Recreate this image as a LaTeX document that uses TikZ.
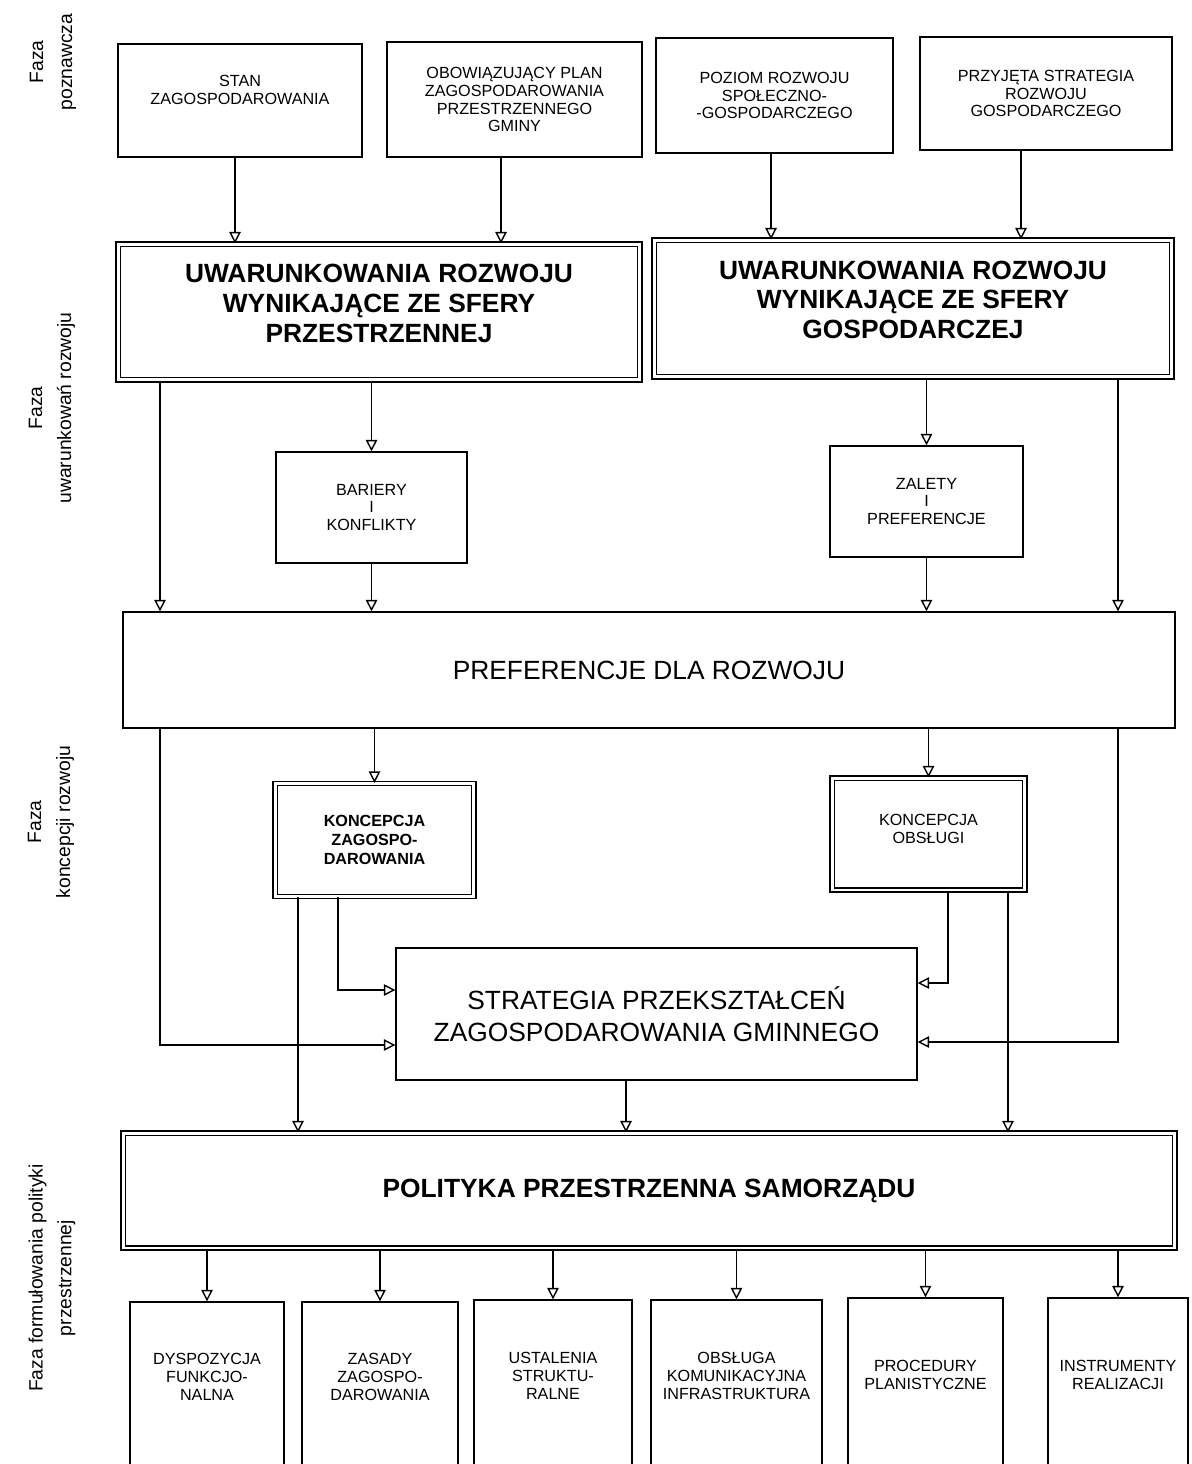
\documentclass[tikz,border=0pt]{standalone}
\usepackage{fontspec}
\setmainfont{Liberation Sans}
\usetikzlibrary{arrows.meta,positioning}

\begin{document}
\begin{tikzpicture}[
    x=0.02cm, y=-0.02cm,
    box/.style={draw, line width=0.8pt, inner sep=0pt, align=center, font=\fontsize{9.2}{10.2}\selectfont},
    dbox/.style={box, double, double distance=1.7pt, line width=0.7pt},
    big/.style={font=\fontsize{15}{18}\selectfont},
    bigb/.style={font=\fontsize{15}{17}\selectfont\bfseries},
    elem/.style={box, text depth=9pt},
    phase/.style={rotate=90, align=center, font=\fontsize{11}{16.5}\selectfont},
    arr/.style={draw, line width=0.8pt, -{Triangle[open, length=6.5pt, width=6.5pt]}}
]
\useasboundingbox (0,0) rectangle (1191,1464);

% phase labels
\node[phase] (fpoz) at (53,62) {Faza\\poznawcza};
\node[phase] (fuw) at (52,408) {Faza\\uwarunkowań rozwoju};
\node[phase] (fkon) at (51,822) {Faza\\koncepcji rozwoju};
\node[phase] (fpol) at (52,1278) {Faza formułowania polityki\\przestrzennej};

% first row
\node[box, minimum width=4.88cm, minimum height=2.26cm, text depth=12pt] (stan) at (240,100.5) {STAN\\ZAGOSPODAROWANIA};
\node[box, minimum width=5.10cm, minimum height=2.30cm] (obow) at (514.5,99.5) {OBOWIĄZUJĄCY PLAN\\ZAGOSPODAROWANIA\\PRZESTRZENNEGO\\GMINY};
\node[box, minimum width=4.74cm, minimum height=2.30cm] (poz) at (774.5,95.5) {POZIOM ROZWOJU\\SPOŁECZNO-\\-GOSPODARCZEGO};
\node[box, minimum width=5.04cm, minimum height=2.26cm] (przy) at (1046,93.5) {PRZYJĘTA STRATEGIA\\ROZWOJU\\GOSPODARCZEGO};

% conditions
\node[dbox, bigb, text depth=10pt, minimum width=10.44cm, minimum height=2.72cm] (uwp) at (379,312) {UWARUNKOWANIA ROZWOJU\\WYNIKAJĄCE ZE SFERY\\PRZESTRZENNEJ};
\node[dbox, bigb, text depth=10pt, minimum width=10.36cm, minimum height=2.74cm] (uwg) at (913,308.5) {UWARUNKOWANIA ROZWOJU\\WYNIKAJĄCE ZE SFERY\\GOSPODARCZEJ};
\node[box, minimum width=3.82cm, minimum height=2.22cm] (bar) at (371.5,507.5) {BARIERY\\I\\KONFLIKTY};
\node[box, minimum width=3.86cm, minimum height=2.22cm] (zal) at (926.5,501.5) {ZALETY\\I\\PREFERENCJE};
\node[box, big, minimum width=21.04cm, minimum height=2.32cm] (pref) at (649,670) {PREFERENCJE DLA ROZWOJU};

% concepts
\node[dbox, font=\fontsize{9.2}{10.8}\selectfont\bfseries, minimum width=3.98cm, minimum height=2.26cm] (kz) at (374.5,840) {KONCEPCJA\\ZAGOSPO-\\DAROWANIA};
\node[dbox, text depth=6pt, minimum width=3.86cm, minimum height=2.24cm] (ko) at (928.5,834) {KONCEPCJA\\OBSŁUGI};
\node[box, big, minimum width=10.42cm, minimum height=2.64cm] (strat) at (656.5,1014) {STRATEGIA PRZEKSZTAŁCEŃ\\ZAGOSPODAROWANIA GMINNEGO};
\node[dbox, bigb, minimum width=21.04cm, minimum height=2.30cm] (pol) at (649,1190.5) {POLITYKA PRZESTRZENNA SAMORZĄDU};

% policy elements
\node[elem, minimum width=3.08cm, minimum height=3.32cm] (dysp) at (207,1385) {DYSPOZYCJA\\FUNKCJO-\\NALNA};
\node[elem, minimum width=3.12cm, minimum height=3.32cm] (zas) at (380,1385) {ZASADY\\ZAGOSPO-\\DAROWANIA};
\node[elem, minimum width=3.16cm, minimum height=3.36cm] (ust) at (553,1384) {USTALENIA\\STRUKTU-\\RALNE};
\node[elem, minimum width=3.42cm, minimum height=3.36cm] (obs) at (736.5,1384) {OBSŁUGA\\KOMUNIKACYJNA\\INFRASTRUKTURA};
\node[elem, minimum width=3.10cm, minimum height=3.40cm] (proc) at (925.5,1383) {PROCEDURY\\PLANISTYCZNE};
\node[elem, minimum width=2.80cm, minimum height=3.40cm] (instr) at (1118,1383) {INSTRUMENTY\\REALIZACJI};

% connectors
\draw[arr] (stan.south -| 235,0) -- (uwp.north -| 235,0);
\draw[arr] (obow.south -| 501,0) -- (uwp.north -| 501,0);
\draw[arr] (poz.south -| 771,0) -- (uwg.north -| 771,0);
\draw[arr] (przy.south -| 1021,0) -- (uwg.north -| 1021,0);

\draw[arr] (uwp.south -| 160,0) -- (pref.north -| 160,0);
\draw[arr] (uwp.south -| bar.north) -- (bar.north);
\draw[arr] (bar) -- (bar |- pref.north);
\draw[arr] (uwg.south -| zal.north) -- (zal.north);
\draw[arr] (zal) -- (zal |- pref.north);
\draw[arr] (uwg.south -| 1118,0) -- (pref.north -| 1118,0);

\draw[arr] (pref.south -| kz.north) -- (kz.north);
\draw[arr] (pref.south -| ko.north) -- (ko.north);
\draw[arr] (pref.south -| 160,0) |- (strat.west |- 0,1045);
\draw[arr] (pref.south -| 1118,0) |- (strat.east |- 0,1042);

\draw[arr] (kz.south -| 338,0) |- (strat.west |- 0,990);
\draw[arr] (kz.south -| 298,0) -- (pol.north -| 298,0);
\draw[arr] (ko.south -| 948,0) |- (strat.east |- 0,983);
\draw[arr] (ko.south -| 1008,0) -- (pol.north -| 1008,0);
\draw[arr] (strat.south -| 626,0) -- (pol.north -| 626,0);

\foreach \el in {dysp,zas,ust,obs,proc,instr}
  \draw[arr] (pol.south -| \el.north) -- (\el.north);
\end{tikzpicture}
\end{document}
